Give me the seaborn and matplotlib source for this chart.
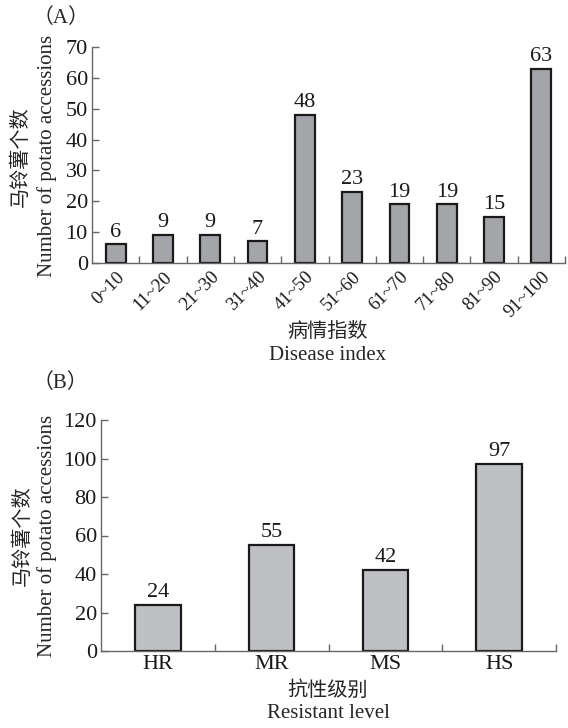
import matplotlib
matplotlib.use("Agg")
import matplotlib.pyplot as plt
import seaborn as sns
import numpy as np

# panel A: disease index groups
index_groups = ['0~10', '11~20', '21~30', '31~40', '41~50',
                '51~60', '61~70', '71~80', '81~90', '91~100']
index_counts = [6, 9, 9, 7, 48, 23, 19, 19, 15, 63]

# panel B: resistance level
levels = ['HR', 'MR', 'MS', 'HS']
level_counts = [24, 55, 42, 97]

sns.set_theme(style="ticks")
plt.rcParams['font.family'] = ['Liberation Serif', 'Noto Sans CJK SC']
plt.rcParams['font.size'] = 14
plt.rcParams['axes.edgecolor'] = '#666666'
plt.rcParams['axes.linewidth'] = 1.0

W, H = 568, 728
fig = plt.figure(figsize=(W / 100, H / 100), dpi=100)

TICK_FS = 16
LABEL_FS = 15


def px_axes(l, t, r, b):
    return fig.add_axes([l / W, 1 - b / H, (r - l) / W, (b - t) / H])


def style_axes(ax, n, ymax, ystep):
    ax.set_xlim(-0.5, n - 0.5)
    ax.set_ylim(0, ymax)
    ax.set_yticks(np.arange(0, ymax + 1, ystep))
    ax.set_xticks(np.arange(n) + 0.5, minor=True)
    ax.tick_params(axis='x', which='major', length=0, labelsize=TICK_FS, pad=3, colors='#1a1a1a')
    ax.tick_params(axis='x', which='minor', direction='in', length=5, width=1, color='#666666')
    ax.tick_params(axis='y', direction='in', length=5, width=1, color='#666666',
                   labelsize=TICK_FS, pad=3, labelcolor='#1a1a1a')
    ax.set_xlabel('')
    ax.set_ylabel('')
    sns.despine(ax=ax)
    ax.bar_label(ax.containers[0], padding=2, fontsize=TICK_FS, color='#1a1a1a')


# ---- panel A ----
axA = px_axes(92, 47, 565, 263)
sns.barplot(x=index_groups, y=index_counts, color='#a4a5a9', saturation=1,
            edgecolor='#1a1a1a', linewidth=1.6, width=0.42, ax=axA)
style_axes(axA, len(index_groups), 70, 10)
axA.tick_params(axis='x', which='major', labelsize=13.5, pad=4)
for lab in axA.get_xticklabels():
    lab.set_rotation(45)
    lab.set_ha('right')
    lab.set_va('top')
    lab.set_rotation_mode('anchor')

fig.text(33 / W, 1 - 18 / H, '（A）', fontsize=LABEL_FS, ha='left', va='center')
fig.text(20 / W, 1 - 157 / H, '马铃薯个数', rotation=90, fontsize=14.5,
         ha='center', va='center', family='Noto Sans CJK SC')
fig.text(47 / W, 1 - 156 / H, 'Number of potato accessions', rotation=90,
         fontsize=LABEL_FS, ha='center', va='center')
fig.text(328 / W, 1 - 331 / H, '病情指数', fontsize=14.5, ha='center', va='center',
         family='Noto Sans CJK SC')
fig.text(328 / W, 1 - 356 / H, 'Disease index', fontsize=LABEL_FS, ha='center', va='center')

# ---- panel B ----
axB = px_axes(101, 420, 556, 651)
sns.barplot(x=levels, y=level_counts, color='#bfc0c4', saturation=1,
            edgecolor='#1a1a1a', linewidth=1.6, width=0.40, ax=axB)
style_axes(axB, len(levels), 120, 20)

fig.text(33 / W, 1 - 383 / H, '（B）', fontsize=LABEL_FS, ha='left', va='center')
fig.text(22 / W, 1 - 536 / H, '马铃薯个数', rotation=90, fontsize=14.5,
         ha='center', va='center', family='Noto Sans CJK SC')
fig.text(47 / W, 1 - 536 / H, 'Number of potato accessions', rotation=90,
         fontsize=LABEL_FS, ha='center', va='center')
fig.text(328 / W, 1 - 690 / H, '抗性级别', fontsize=14.5, ha='center', va='center',
         family='Noto Sans CJK SC')
fig.text(328 / W, 1 - 713 / H, 'Resistant level', fontsize=LABEL_FS, ha='center', va='center')

fig.savefig('out.png', dpi=100)
